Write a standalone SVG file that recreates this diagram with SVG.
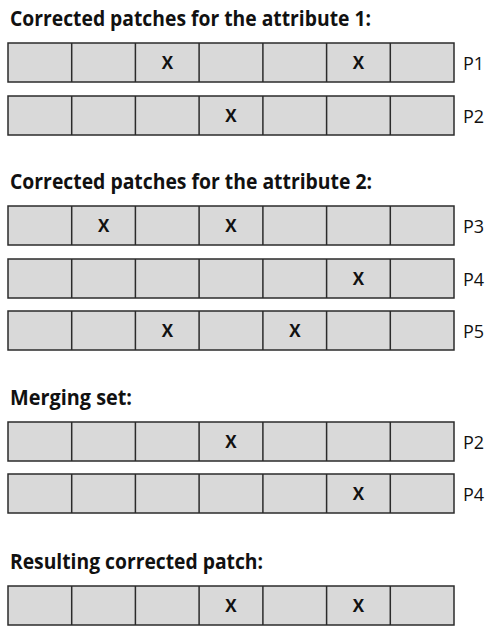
<svg xmlns="http://www.w3.org/2000/svg" xmlns:xlink="http://www.w3.org/1999/xlink" width="497" height="626" viewBox="0 0 497 626">
  <style>
    .head { font-family: "Open Sans", "Liberation Sans", sans-serif; font-weight: 700; font-size: 21px; fill: #111; }
    .lbl { font-family: "Open Sans", "Liberation Sans", sans-serif; font-size: 18px; fill: #111; }
    .x { font-family: "Open Sans", "Liberation Sans", sans-serif; font-weight: 700; font-size: 17px; fill: #111; text-anchor: middle; }
    .cell { fill: #d9d9d9; stroke: #2b2b2b; stroke-width: 1.5; }
    .div { stroke: #2b2b2b; stroke-width: 1.5; }
  </style>
  <defs>
    <!-- one patch strip of seven cells, 446 x 39 -->
    <g id="strip">
      <rect class="cell" x="0" y="0" width="446" height="39"/>
      <path class="div" d="M63.7 0V39M127.4 0V39M191.1 0V39M254.9 0V39M318.6 0V39M382.3 0V39"/>
    </g>
  </defs>

  <rect width="497" height="626" fill="#fff"/>

  <text class="head" x="10" y="26" textLength="361" lengthAdjust="spacingAndGlyphs">Corrected patches for the attribute 1:</text>
  <g id="p1-a" transform="translate(8,43)">
    <use xlink:href="#strip"/>
    <text class="x" x="159.3" y="26">X</text>
    <text class="x" x="350.5" y="26">X</text>
    <text class="lbl" x="455" y="26.5">P1</text>
  </g>
  <g id="p2-a" transform="translate(8,96)">
    <use xlink:href="#strip"/>
    <text class="x" x="223" y="26">X</text>
    <text class="lbl" x="455" y="26.5">P2</text>
  </g>

  <text class="head" x="10" y="189" textLength="362" lengthAdjust="spacingAndGlyphs">Corrected patches for the attribute 2:</text>
  <g id="p3" transform="translate(8,206)">
    <use xlink:href="#strip"/>
    <text class="x" x="95.6" y="26">X</text>
    <text class="x" x="223" y="26">X</text>
    <text class="lbl" x="455" y="26.5">P3</text>
  </g>
  <g id="p4-a" transform="translate(8,259)">
    <use xlink:href="#strip"/>
    <text class="x" x="350.5" y="26">X</text>
    <text class="lbl" x="455" y="26.5">P4</text>
  </g>
  <g id="p5" transform="translate(8,311)">
    <use xlink:href="#strip"/>
    <text class="x" x="159.3" y="26">X</text>
    <text class="x" x="286.8" y="26">X</text>
    <text class="lbl" x="455" y="26.5">P5</text>
  </g>

  <text class="head" x="10" y="405" textLength="122" lengthAdjust="spacingAndGlyphs">Merging set:</text>
  <g id="p2-m" transform="translate(8,422)">
    <use xlink:href="#strip"/>
    <text class="x" x="223" y="26">X</text>
    <text class="lbl" x="455" y="26.5">P2</text>
  </g>
  <g id="p4-m" transform="translate(8,474)">
    <use xlink:href="#strip"/>
    <text class="x" x="350.5" y="26">X</text>
    <text class="lbl" x="455" y="26.5">P4</text>
  </g>

  <text class="head" x="10" y="569" textLength="253" lengthAdjust="spacingAndGlyphs">Resulting corrected patch:</text>
  <g id="result" transform="translate(8,586)">
    <use xlink:href="#strip"/>
    <text class="x" x="223" y="26">X</text>
    <text class="x" x="350.5" y="26">X</text>
  </g>
</svg>
